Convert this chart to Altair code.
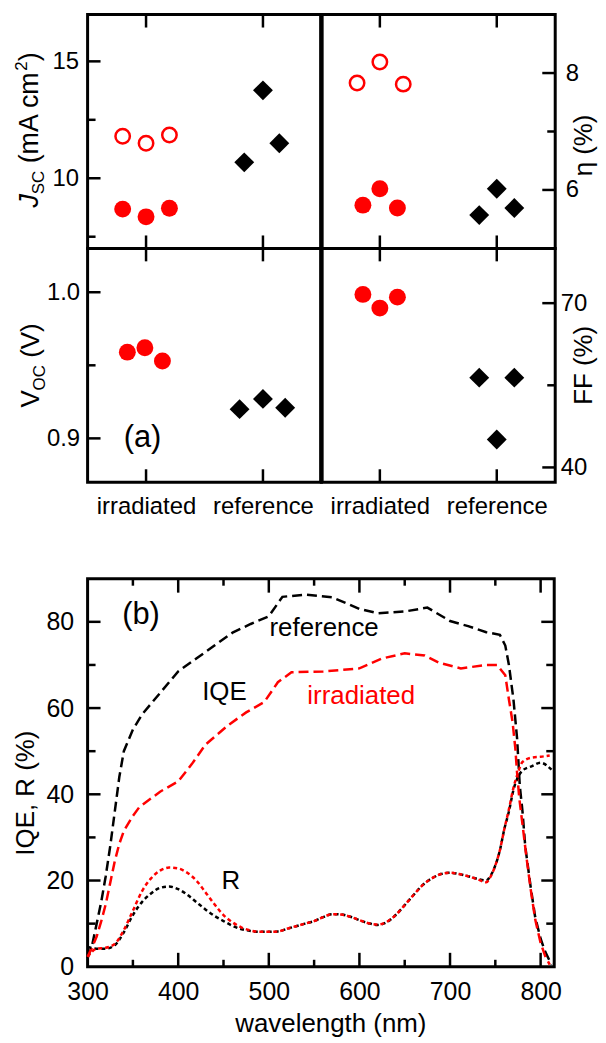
import altair as alt
import pandas as pd

FONT = "Liberation Sans"
RED = "#ff0000"
BLACK = "#000000"

# ---------------- panel (a) data ----------------
categories = ["irradiated", "reference"]

jsc_open_x = [0.8, 1.0, 1.2]
jsc_open_y = [11.8, 11.5, 11.85]
jsc_fill_x = [0.8, 1.0, 1.2]
jsc_fill_y = [8.68, 8.35, 8.72]
jsc_ref_x = [1.84, 2.0, 2.14]
jsc_ref_y = [10.68, 13.76, 11.5]

eta_open_x = [0.805, 1.0, 1.2]
eta_open_y = [7.83, 8.19, 7.81]
eta_fill_x = [0.855, 1.0, 1.15]
eta_fill_y = [5.74, 6.02, 5.69]
eta_ref_x = [1.85, 2.0, 2.15]
eta_ref_y = [5.57, 6.02, 5.69]

voc_fill_x = [0.84, 0.99, 1.14]
voc_fill_y = [0.959, 0.962, 0.953]
voc_ref_x = [1.8, 2.0, 2.19]
voc_ref_y = [0.920, 0.927, 0.921]

ff_fill_x = [0.855, 1.0, 1.15]
ff_fill_y = [71.6, 69.1, 71.1]
ff_ref_x = [1.85, 2.0, 2.15]
ff_ref_y = [56.4, 45.1, 56.4]

jsc_major, jsc_minor = [10, 15], [7.5, 12.5]
eta_major, eta_minor = [6, 8], [7]
voc_major, voc_minor = [0.9, 1.0], [0.95]
ff_major, ff_minor = [40, 70], [55]

a_label = ["(a)"]
a_label_x = [0.97]
a_label_y = [0.9]

# ---------------- panel (b) data ----------------
iqe_ref_wl = [300, 305, 310, 315, 320, 325, 330, 335, 340, 350, 360, 380, 400, 420,
              440, 460, 480, 500, 515, 540, 570, 600, 620, 650, 675, 700, 720, 740,
              755, 761, 765, 770, 774, 777, 780, 783, 789, 794, 800, 805, 812]
iqe_ref = [2, 5, 10, 15, 21, 28, 36, 44, 50, 55, 58.5, 63.5, 68.5, 71.5,
           74.5, 77.5, 79.5, 81.3, 85.8, 86.3, 85.7, 83, 82, 82.4, 83.3, 80.2, 79, 77.6,
           77, 74.5, 70, 62, 53, 42, 36, 28, 18.5, 11.5, 6.5, 3.5, 0.5]

iqe_irr_wl = [300, 305, 310, 315, 320, 325, 330, 335, 340, 350, 357, 380, 400, 415,
              430, 455, 475, 495, 510, 525, 560, 600, 625, 650, 672, 688, 712, 740,
              752, 761, 765, 769, 772, 774, 776.5, 780, 784, 789, 794, 800, 805, 810]
iqe_irr = [2.3, 4.5, 7, 10.5, 14.5, 19.5, 24.5, 28.5, 31.5, 35, 37, 40.6, 43, 47,
           51.5, 56, 59, 61.4, 66, 68.3, 68.5, 69.2, 71.5, 72.7, 72.2, 70.5, 69.2, 70,
           70, 67.6, 62, 56.8, 50.8, 45, 39, 33, 26, 18, 11, 5.5, 2.5, 0.5]

r_ref_wl = [300, 310, 320, 330, 340, 350, 360, 370, 380, 390,
            400, 410, 420, 430, 440, 450, 460, 470, 480, 490,
            500, 510, 520, 530, 540, 550, 560, 570, 580, 590,
            600, 610, 620, 630, 640, 650, 660, 670, 680, 690,
            700, 710, 720, 730, 740, 745, 750, 755, 760, 765,
            770, 775, 780, 790, 800, 812]
r_ref = [4.6, 4.2, 4.2, 5, 8, 12, 15, 17, 18.3, 18.6,
         18, 16.7, 15, 13.3, 11.8, 10.6, 9.5, 8.7, 8.3, 8.1,
         8.1, 8.2, 8.8, 9.4, 10, 10.6, 11.5, 12.2, 12.1, 11.6,
         10.8, 10.1, 9.7, 10.3, 12, 14.3, 16.7, 19, 20.5, 21.5,
         21.8, 21.5, 21, 20.4, 20, 21.2, 23.5, 27, 32, 36,
         41, 44, 45.5, 46.5, 47.3, 45.7]

r_irr_wl = [300, 310, 320, 330, 340, 350, 360, 370, 380, 390,
            400, 410, 420, 430, 440, 450, 460, 470, 480, 490,
            500, 510, 520, 530, 540, 550, 560, 570, 580, 590,
            600, 610, 620, 630, 640, 650, 660, 670, 680, 690,
            700, 710, 720, 730, 740, 745, 750, 755, 760, 765,
            770, 775, 780, 790, 800, 810]
r_irr = [2.3, 4.2, 4.4, 5.3, 8.5, 13, 17.5, 20.5, 22.3, 23,
         22.8, 21.8, 20, 17.3, 14.5, 12, 10.3, 9.1, 8.4, 8.1,
         8.1, 8.2, 8.8, 9.4, 10, 10.6, 11.5, 12.2, 12.1, 11.6,
         10.8, 10.1, 9.8, 10.4, 12, 14.3, 16.7, 19, 20.5, 21.5,
         21.8, 21.5, 21, 20.3, 19.6, 21, 23.5, 27, 32, 36.5,
         41.5, 45, 47.5, 48.5, 48.7, 49]

ann_text = ["reference", "IQE", "irradiated", "R"]
ann_x = [561, 451, 602, 458]
ann_y = [78.6, 63.8, 62.7, 19.8]
ann_color = [BLACK, BLACK, RED, BLACK]
b_label = ["(b)"]
b_label_x = [359]
b_label_y = [81.5]

wl_major = [400, 500, 600, 700, 800]
wl_minor = [350, 450, 550, 650, 750]
wl_labels = [300, 400, 500, 600, 700, 800]
q_major = [20, 40, 60, 80]
q_minor = [10, 30, 50, 70]
q_labels = [0, 20, 40, 60, 80]

# ---------------- helpers ----------------
W = 235
H = 235
TICK = 2.5
cat_pos = [i + 1 for i in range(len(categories))]
xlabel_expr = " : ".join(
    [f"datum.value == {p} ? '{c}'" for p, c in zip(cat_pos[:-1], categories[:-1])]
    + [f"'{categories[-1]}'"]
)


def rules_y(values, scale, axis, x0, x1):
    return alt.Chart(pd.DataFrame({"v": values})).mark_rule(
        color=BLACK, strokeWidth=TICK
    ).encode(y=alt.Y("v:Q", scale=scale, axis=axis), x=alt.value(x0), x2=alt.value(x1))


def rules_x(values, scale, axis, y0, y1):
    return alt.Chart(pd.DataFrame({"v": values})).mark_rule(
        color=BLACK, strokeWidth=TICK
    ).encode(x=alt.X("v:Q", scale=scale, axis=axis), y=alt.value(y0), y2=alt.value(y1))


def rich_title(pieces):
    out = []
    for txt, px, py, fs, italic in pieces:
        out.append(
            alt.Chart(pd.DataFrame({"t": [txt]})).mark_text(
                angle=270, align="left", baseline="alphabetic", fontSize=fs,
                font=FONT, fontStyle="italic" if italic else "normal", color=BLACK
            ).encode(text="t:N", x=alt.value(px), y=alt.value(py))
        )
    return out


def panel(series, domain, major, minor, side, fmt, label_pad, show_x,
          title=None, title_x=0, title_y=0, titles=(), label=None):
    xs = alt.Scale(domain=[0.5, 2.5], nice=False, zero=False)
    ys = alt.Scale(domain=domain, nice=False, zero=False)
    xaxis = alt.Axis(values=cat_pos, labelExpr=xlabel_expr, ticks=False, domain=False,
                     grid=False, labelFontSize=24, labelPadding=12, title=None,
                     labelFlush=False) if show_x else None
    ykw = dict(orient=side, values=major, format=fmt, ticks=False, domain=False,
               grid=False, labelFontSize=24, labelPadding=label_pad)
    if title:
        ykw.update(title=title, titleAngle=270, titleX=title_x, titleY=title_y,
                   titleBaseline="alphabetic", titleAlign="center", titleFontSize=26,
                   titleFontWeight="normal")
    else:
        ykw.update(title=None)
    yaxis = alt.Axis(**ykw)

    layers = []
    for kind, xv, yv in series:
        df = pd.DataFrame({"x": xv, "y": yv})
        if kind == "open":
            m = alt.Chart(df).mark_point(shape="circle", filled=False, size=210,
                                         strokeWidth=2.5, color=RED, opacity=1)
        elif kind == "fill":
            m = alt.Chart(df).mark_point(shape="circle", filled=True, size=289,
                                         color=RED, opacity=1)
        else:
            m = alt.Chart(df).mark_point(shape="diamond", filled=True, size=400,
                                         color=BLACK, opacity=1)
        layers.append(m.encode(
            x=alt.X("x:Q", scale=xs, axis=xaxis),
            y=alt.Y("y:Q", scale=ys, axis=yaxis),
        ))

    if side == "left":
        layers.append(rules_y(major, ys, yaxis, 0, 13))
        layers.append(rules_y(minor, ys, yaxis, 0, 8))
        # slightly thicker column divider on the right edge of the left panels
        layers.append(alt.Chart(pd.DataFrame({"v": [domain[0]]})).mark_rule(
            color=BLACK, strokeWidth=4.5
        ).encode(x=alt.value(W), y=alt.value(0), y2=alt.value(H)))
    else:
        layers.append(rules_y(major, ys, yaxis, W, W - 13))
        layers.append(rules_y(minor, ys, yaxis, W, W - 8))
    layers.append(rules_x(cat_pos, xs, xaxis, 0, 13))
    layers.append(rules_x(cat_pos, xs, xaxis, H, H - 13))
    if label is not None:
        lx, ly, lt = label
        layers.append(
            alt.Chart(pd.DataFrame({"x": lx, "y": ly, "t": lt})).mark_text(
                fontSize=31, font=FONT, color=BLACK, align="center", baseline="middle"
            ).encode(x=alt.X("x:Q", scale=xs, axis=xaxis),
                     y=alt.Y("y:Q", scale=ys, axis=yaxis), text="t:N")
        )
    layers.extend(titles)
    return alt.layer(*layers).properties(width=W, height=H)


jsc_title = rich_title([
    ("J", -50, 194, 27, True),
    ("SC", -44, 180.5, 17, False),
    ("(mA cm", -50, 149.5, 27, False),
    ("2", -61, 56.5, 17, False),
    (")", -50, 47, 27, False),
])
voc_title = rich_title([
    ("V", -49, 160, 26, False),
    ("OC", -43, 142.7, 17, False),
    ("(V)", -49, 110, 26, False),
])

tl = panel([("open", jsc_open_x, jsc_open_y), ("fill", jsc_fill_x, jsc_fill_y),
            ("ref", jsc_ref_x, jsc_ref_y)],
           [7, 17], jsc_major, jsc_minor, "left", "d", 9, False, titles=jsc_title)
tr = panel([("open", eta_open_x, eta_open_y), ("fill", eta_fill_x, eta_fill_y),
            ("ref", eta_ref_x, eta_ref_y)],
           [5, 9], eta_major, eta_minor, "right", "d", 10, False,
           title="η (%)", title_x=36, title_y=131)
bl = panel([("fill", voc_fill_x, voc_fill_y), ("ref", voc_ref_x, voc_ref_y)],
           [0.87, 1.03], voc_major, voc_minor, "left", ".1f", 8, True,
           titles=voc_title, label=(a_label_x, a_label_y, a_label))
br = panel([("fill", ff_fill_x, ff_fill_y), ("ref", ff_ref_x, ff_ref_y)],
           [37.3, 80], ff_major, ff_minor, "right", "d", 5, True,
           title="FF (%)", title_x=36, title_y=117)

grid = alt.concat(tl, tr, bl, br, columns=2, spacing=0, bounds="flush")

# ---------------- panel (b) ----------------
BW, BH = 469, 390
wx = alt.Scale(domain=[300, 815], nice=False, zero=False)
qy = alt.Scale(domain=[0, 90], nice=False, zero=False)
bx_axis = alt.Axis(values=wl_labels, ticks=False, domain=False, grid=False, labelFontSize=25,
                   labelPadding=13, labelFlush=False, title="wavelength (nm)", titleFontSize=26,
                   titleFontWeight="normal", titleX=244, titleY=65, titleBaseline="alphabetic",
                   titleAlign="center")
by_axis = alt.Axis(values=q_labels, ticks=False, domain=False, grid=False, labelFontSize=25,
                   labelPadding=14, title="IQE, R (%)", titleFontSize=26, titleFontWeight="normal",
                   titleX=-54, titleY=215, titleAngle=270, titleBaseline="alphabetic",
                   titleAlign="center")


def line(wl, val, color, dash, interp):
    return alt.Chart(pd.DataFrame({"wl": wl, "v": val})).mark_line(
        color=color, strokeWidth=2.5, strokeDash=dash, interpolate=interp
    ).encode(
        x=alt.X("wl:Q", scale=wx, axis=bx_axis),
        y=alt.Y("v:Q", scale=qy, axis=by_axis),
    )


b_layers = [
    line(iqe_ref_wl, iqe_ref, BLACK, [10, 5], "linear"),
    line(iqe_irr_wl, iqe_irr, RED, [10, 5], "linear"),
    line(r_ref_wl, r_ref, BLACK, [4, 3], "monotone"),
    line(r_irr_wl, r_irr, RED, [4, 3], "monotone"),
    rules_y(q_major, qy, by_axis, 0, 13), rules_y(q_minor, qy, by_axis, 0, 8),
    rules_y(q_major, qy, by_axis, BW, BW - 13), rules_y(q_minor, qy, by_axis, BW, BW - 8),
    rules_x(wl_major, wx, bx_axis, BH, BH - 14), rules_x(wl_minor, wx, bx_axis, BH, BH - 7),
    rules_x(wl_major, wx, bx_axis, 0, 14), rules_x(wl_minor, wx, bx_axis, 0, 7),
    alt.Chart(pd.DataFrame({"x": ann_x, "y": ann_y, "t": ann_text, "c": ann_color})).mark_text(
        fontSize=26, font=FONT, align="center", baseline="middle"
    ).encode(x=alt.X("x:Q", scale=wx, axis=bx_axis), y=alt.Y("y:Q", scale=qy, axis=by_axis),
             text="t:N", color=alt.Color("c:N", scale=None)),
    alt.Chart(pd.DataFrame({"x": b_label_x, "y": b_label_y, "t": b_label})).mark_text(
        fontSize=31, font=FONT, color=BLACK, align="center", baseline="middle"
    ).encode(x=alt.X("x:Q", scale=wx, axis=bx_axis), y=alt.Y("y:Q", scale=qy, axis=by_axis),
             text="t:N"),
]
chart_b = alt.layer(*b_layers).properties(width=BW, height=BH)

chart = alt.vconcat(grid, chart_b, spacing=56).properties(
    padding={"left": 3, "top": 0, "right": 0, "bottom": 0}, background="white"
).configure_view(stroke=BLACK, strokeWidth=3).configure_axis(
    labelFont=FONT, titleFont=FONT, labelColor=BLACK, titleColor=BLACK
).configure_text(font=FONT)

chart.save("out.html", embed_options={"renderer": "svg", "actions": False})
